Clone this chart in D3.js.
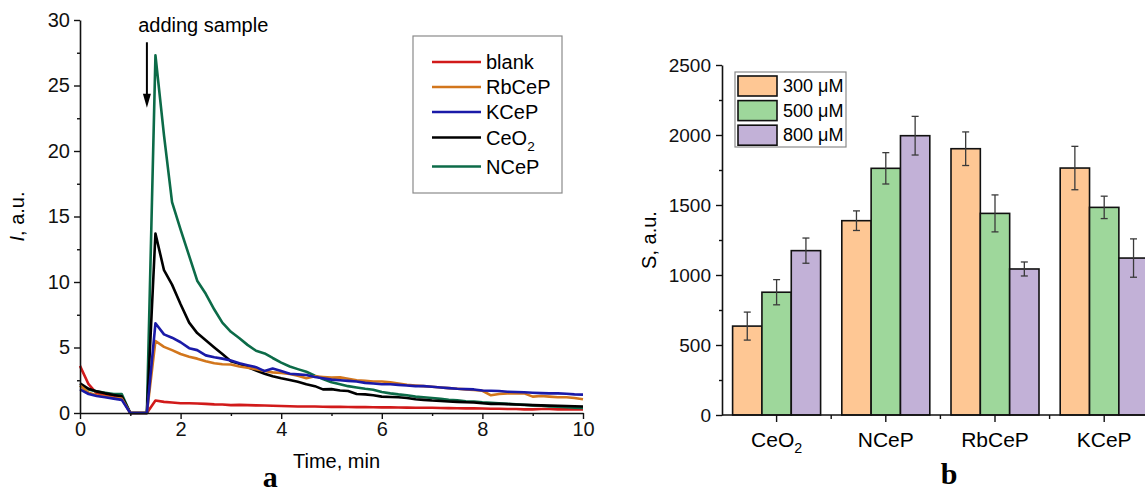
<!DOCTYPE html>
<html>
<head>
<meta charset="utf-8">
<script src="https://cdn.jsdelivr.net/npm/d3@7"></script>
<style>
  body { margin: 0; background: #fff; }
  svg { font-family: "Liberation Sans", Arial, sans-serif; }
</style>
</head>
<body>
<svg id="fig" width="1145" height="495"></svg>
<script>
// ---- panel a : kinetics (time in min, intensity in a.u.) ----
var times = [0, 0.17, 0.33, 0.5, 0.67, 0.83, 1, 1.17, 1.33, 1.5,
  1.67, 1.83, 2, 2.17, 2.33, 2.5, 2.67, 2.83, 3, 3.17,
  3.33, 3.5, 3.67, 3.83, 4, 4.17, 4.33, 4.5, 4.67, 4.83,
  5, 5.17, 5.33, 5.5, 5.67, 5.83, 6, 6.17, 6.33, 6.5,
  6.67, 6.83, 7, 7.17, 7.33, 7.5, 7.67, 7.83, 8, 8.17,
  8.33, 8.5, 8.67, 8.83, 9, 9.17, 9.33, 9.5, 9.67, 9.83, 10];

var blank = [3.6, 2.2, 1.5, 1.35, 1.25, 1.15, 0, 0, 0, 0.95,
  0.85, 0.8, 0.75, 0.75, 0.72, 0.7, 0.66, 0.65, 0.6, 0.62,
  0.6, 0.58, 0.57, 0.55, 0.53, 0.52, 0.5, 0.5, 0.5, 0.48,
  0.47, 0.47, 0.46, 0.45, 0.45, 0.44, 0.43, 0.43, 0.42, 0.41,
  0.4, 0.4, 0.4, 0.38, 0.37, 0.36, 0.35, 0.35, 0.34, 0.33,
  0.32, 0.3, 0.3, 0.28, 0.28, 0.3, 0.3, 0.28, 0.28, 0.27, 0.27];

var rbcep = [2.1, 1.55, 1.35, 1.25, 1.15, 1.1, 0, 0, 0, 5.5,
  5.05, 4.8, 4.5, 4.3, 4.15, 3.95, 3.8, 3.72, 3.7, 3.55,
  3.45, 3.35, 3.2, 3.1, 3.05, 2.98, 2.85, 2.65, 2.8, 2.75,
  2.7, 2.72, 2.62, 2.5, 2.45, 2.4, 2.4, 2.35, 2.25, 2.15,
  2.1, 2.05, 2.0, 1.95, 1.9, 1.85, 1.8, 1.75, 1.7, 1.35,
  1.45, 1.5, 1.5, 1.5, 1.25, 1.3, 1.25, 1.2, 1.2, 1.15, 1.05];

var kcep = [1.8, 1.45, 1.3, 1.2, 1.1, 1.0, 0, 0, 0, 6.85,
  6.0, 5.75, 5.4, 4.95, 4.8, 4.4, 4.25, 4.15, 4.0, 3.8,
  3.65, 3.5, 3.2, 3.4, 3.2, 3.0, 2.95, 2.9, 2.75, 2.65,
  2.55, 2.5, 2.45, 2.4, 2.3, 2.25, 2.2, 2.2, 2.15, 2.1,
  2.05, 2.05, 2.0, 1.95, 1.9, 1.85, 1.82, 1.8, 1.72, 1.7,
  1.68, 1.62, 1.6, 1.58, 1.55, 1.52, 1.5, 1.5, 1.47, 1.42, 1.4];

var ceo2 = [2.26, 1.85, 1.65, 1.5, 1.38, 1.28, 0, 0, 0, 13.7,
  10.9, 9.8, 8.3, 6.9, 6.1, 5.55, 5.0, 4.5, 3.95, 3.75,
  3.5, 3.25, 3.0, 2.8, 2.65, 2.52, 2.38, 2.2, 2.05, 1.8,
  1.82, 1.72, 1.68, 1.45, 1.42, 1.35, 1.25, 1.22, 1.2, 1.15,
  1.05, 1.0, 0.95, 0.92, 0.88, 0.85, 0.82, 0.8, 0.75, 0.7,
  0.7, 0.68, 0.65, 0.63, 0.6, 0.58, 0.56, 0.55, 0.53, 0.52, 0.5];

var ncep = [2.1, 1.8, 1.65, 1.55, 1.45, 1.45, 0, 0, 0, 27.3,
  21.2, 16.1, 14.0, 12.0, 10.1, 9.1, 7.9, 6.9, 6.2, 5.7,
  5.2, 4.75, 4.55, 4.2, 3.85, 3.55, 3.35, 3.15, 2.85, 2.6,
  2.35, 2.2, 2.05, 1.95, 1.85, 1.78, 1.6, 1.5, 1.42, 1.35,
  1.25, 1.2, 1.15, 1.08, 1.0, 0.97, 0.9, 0.88, 0.82, 0.78,
  0.75, 0.7, 0.66, 0.62, 0.58, 0.55, 0.5, 0.48, 0.45, 0.4, 0.38];

var lineNames = ["blank", "RbCeP", "KCeP", "CeO2", "NCeP"];
var lineColors = ["#d11a1a", "#d2761c", "#1a1aa8", "#000000", "#0c6b48"];
var lineData = [blank, rbcep, kcep, ceo2, ncep];
var drawOrder = [0, 4, 3, 1, 2];   // blue ends up on top, like the original

var xTicksA = [0, 2, 4, 6, 8, 10];
var yTicksA = [0, 5, 10, 15, 20, 25, 30];

// ---- panel b : bars ----
var categories = ["CeO2", "NCeP", "RbCeP", "KCeP"];
var concNames = ["300 μM", "500 μM", "800 μM"];
var concColors = ["#fec794", "#9ed79b", "#c2b1d7"];
var s300 = [635, 1388, 1902, 1764];
var s500 = [877, 1762, 1440, 1483];
var s800 = [1174, 1995, 1043, 1121];
var e300 = [100, 70, 120, 155];
var e500 = [90, 112, 132, 80];
var e800 = [90, 138, 50, 137];
var yTicksB = [0, 500, 1000, 1500, 2000, 2500];

var svg = d3.select("#fig");

// little helper: write CeO2 with a lowered 2
function chemText(sel, name, fs) {
  if (name === "CeO2") {
    sel.append("tspan").text("CeO");
    sel.append("tspan").attr("dy", fs * 0.3).attr("font-size", fs * 0.68).text("2");
  } else {
    sel.text(name);
  }
}

/* ================= panel a ================= */
var xA = d3.scaleLinear().domain([0, 10]).range([80, 583]);
var yA = d3.scaleLinear().domain([0, 30]).range([413, 20]);

var gA = svg.append("g");

var line = d3.line()
  .x(function(d, i) { return xA(times[i]); })
  .y(function(d) { return yA(d); });

drawOrder.forEach(function(k) {
  gA.append("path")
    .datum(lineData[k])
    .attr("d", line)
    .attr("fill", "none")
    .attr("stroke", lineColors[k])
    .attr("stroke-width", 2.6)
    .attr("stroke-linejoin", "round");
});

// minor ticks first, then major axes with labels
gA.append("g").attr("transform", "translate(0,413)")
  .call(d3.axisBottom(xA).tickValues([1, 3, 5, 7, 9]).tickSize(3).tickFormat(""))
  .call(function(g) { g.select(".domain").remove(); });
gA.append("g").attr("transform", "translate(80,0)")
  .call(d3.axisLeft(yA).tickValues([2.5, 7.5, 12.5, 17.5, 22.5, 27.5]).tickSize(3).tickFormat(""))
  .call(function(g) { g.select(".domain").remove(); });

var axA_x = gA.append("g").attr("transform", "translate(0,413)")
  .call(d3.axisBottom(xA).tickValues(xTicksA).tickSize(6).tickPadding(3).tickSizeOuter(0));
var axA_y = gA.append("g").attr("transform", "translate(80,0)")
  .call(d3.axisLeft(yA).tickValues(yTicksA).tickSize(6).tickPadding(4).tickSizeOuter(0));
[axA_x, axA_y].forEach(function(ax) {
  ax.selectAll("text").attr("font-size", 20).attr("font-family", "Liberation Sans, Arial, sans-serif").attr("fill", "#111");
  ax.select(".domain").attr("stroke", "#111").attr("stroke-width", 1.6);
});
gA.selectAll(".tick line").attr("stroke", "#111").attr("stroke-width", 1.4);

gA.append("text")
  .attr("x", xA(5.1)).attr("y", 468)
  .attr("text-anchor", "middle").attr("font-size", 20)
  .text("Time, min");

var ylabA = gA.append("text")
  .attr("transform", "translate(" + 24 + "," + yA(15) + ") rotate(-90)")
  .attr("text-anchor", "middle").attr("font-size", 20);
ylabA.append("tspan").attr("font-style", "italic").text("I");
ylabA.append("tspan").text(", a.u.");

// annotation: arrow at the moment the sample is added
var addT = 1.33, arrowTop = 28.3, arrowTip = 23.3;
gA.append("text")
  .attr("x", xA(2.45)).attr("y", yA(29.1))
  .attr("text-anchor", "middle").attr("font-size", 20)
  .text("adding sample");
gA.append("line")
  .attr("x1", xA(addT)).attr("x2", xA(addT))
  .attr("y1", yA(arrowTop)).attr("y2", yA(arrowTip) - 10)
  .attr("stroke", "#000").attr("stroke-width", 2);
gA.append("path")
  .attr("d", "M" + (xA(addT) - 4) + "," + (yA(arrowTip) - 14) +
             " L" + (xA(addT) + 4) + "," + (yA(arrowTip) - 14) +
             " L" + xA(addT) + "," + yA(arrowTip) + " Z")
  .attr("fill", "#000");

// legend a
var legA = gA.append("g");
legA.append("rect")
  .attr("x", 413).attr("y", 36).attr("width", 149).attr("height", 157)
  .attr("fill", "#fff").attr("stroke", "#8a8a8a").attr("stroke-width", 1.2);
var legRowsA = [62, 87, 112, 137.5, 166.5];
lineNames.forEach(function(n, i) {
  legA.append("line")
    .attr("x1", 432).attr("x2", 481)
    .attr("y1", legRowsA[i]).attr("y2", legRowsA[i])
    .attr("stroke", lineColors[i]).attr("stroke-width", 2.6);
  var t = legA.append("text")
    .attr("x", 486).attr("y", legRowsA[i] + 7)
    .attr("font-size", 20);
  chemText(t, n, 20);
});

svg.append("text")
  .attr("x", xA(3.78)).attr("y", 487)
  .attr("text-anchor", "middle")
  .attr("font-family", "Liberation Serif, Times New Roman, serif")
  .attr("font-weight", "bold").attr("font-size", 30)
  .text("a");

/* ================= panel b ================= */
var bandW = 109.2;
var xB = d3.scaleBand().domain(categories).range([722, 722 + bandW * categories.length]);
var xSub = d3.scaleBand().domain(concNames).range([0, 88]);
var yB = d3.scaleLinear().domain([0, 2500]).range([415, 65]);
var gB = svg.append("g");

var seriesVals = [s300, s500, s800];
var seriesErr = [e300, e500, e800];
var barOffset = (bandW - 88) / 2;

categories.forEach(function(c, ci) {
  concNames.forEach(function(s, si) {
    var x0 = xB(c) + barOffset + xSub(s);
    var v = seriesVals[si][ci];
    gB.append("rect")
      .attr("x", x0).attr("y", yB(v))
      .attr("width", xSub.bandwidth()).attr("height", yB(0) - yB(v))
      .attr("fill", concColors[si])
      .attr("stroke", "#111").attr("stroke-width", 1.6);
  });
});
// error bars on top
categories.forEach(function(c, ci) {
  concNames.forEach(function(s, si) {
    var cx = xB(c) + barOffset + xSub(s) + xSub.bandwidth() / 2;
    var v = seriesVals[si][ci], e = seriesErr[si][ci];
    var g = gB.append("g").attr("stroke", "#3a3a3a").attr("stroke-width", 1.3);
    g.append("line").attr("x1", cx).attr("x2", cx).attr("y1", yB(v + e)).attr("y2", yB(v - e));
    g.append("line").attr("x1", cx - 3.5).attr("x2", cx + 3.5).attr("y1", yB(v + e)).attr("y2", yB(v + e));
    g.append("line").attr("x1", cx - 3.5).attr("x2", cx + 3.5).attr("y1", yB(v - e)).attr("y2", yB(v - e));
  });
});

// axes b
gB.append("g").attr("transform", "translate(722,0)")
  .call(d3.axisLeft(yB).tickValues([250, 750, 1250, 1750, 2250]).tickSize(3).tickFormat(""))
  .call(function(g) { g.select(".domain").remove(); });
var axB_y = gB.append("g").attr("transform", "translate(722,0)")
  .call(d3.axisLeft(yB).tickValues(yTicksB).tickFormat(d3.format("d"))
        .tickSize(6).tickPadding(5).tickSizeOuter(0));
axB_y.selectAll("text").attr("font-size", 19).attr("fill", "#111");

var bounds = categories.slice(1).map(function(c) { return xB(c); });
gB.append("g").selectAll("line").data(bounds).enter().append("line")
  .attr("x1", function(d) { return d; }).attr("x2", function(d) { return d; })
  .attr("y1", 415).attr("y2", 419)
  .attr("stroke", "#111").attr("stroke-width", 1.4);

var axB_x = gB.append("g").attr("transform", "translate(0,415)")
  .call(d3.axisBottom(xB).tickSize(7).tickFormat("").tickSizeOuter(0));
axB_x.select(".domain").attr("d", "M722,0H1145");
gB.selectAll(".tick line").attr("stroke", "#111").attr("stroke-width", 1.4);
gB.selectAll(".domain").attr("stroke", "#111").attr("stroke-width", 1.6);

categories.forEach(function(c) {
  var t = gB.append("text")
    .attr("x", xB(c) + bandW / 2).attr("y", 447)
    .attr("text-anchor", "middle").attr("font-size", 21);
  chemText(t, c, 21);
});

gB.append("text")
  .attr("transform", "translate(656," + yB(1250) + ") rotate(-90)")
  .attr("text-anchor", "middle").attr("font-size", 20)
  .text("S, a.u.");

// legend b
var legB = gB.append("g");
legB.append("rect")
  .attr("x", 735).attr("y", 72).attr("width", 111).attr("height", 75)
  .attr("fill", "#fff").attr("stroke", "#8a8a8a").attr("stroke-width", 1.2);
concNames.forEach(function(n, i) {
  var yy = 76 + i * 24.6;
  legB.append("rect")
    .attr("x", 738).attr("y", yy).attr("width", 39).attr("height", 20)
    .attr("fill", concColors[i]).attr("stroke", "#111").attr("stroke-width", 1.6);
  legB.append("text")
    .attr("x", 783).attr("y", yy + 16)
    .attr("font-size", 18)
    .text(n);
});

svg.append("text")
  .attr("x", 949).attr("y", 484)
  .attr("text-anchor", "middle")
  .attr("font-family", "Liberation Serif, Times New Roman, serif")
  .attr("font-weight", "bold").attr("font-size", 30)
  .text("b");
</script>
</body>
</html>
